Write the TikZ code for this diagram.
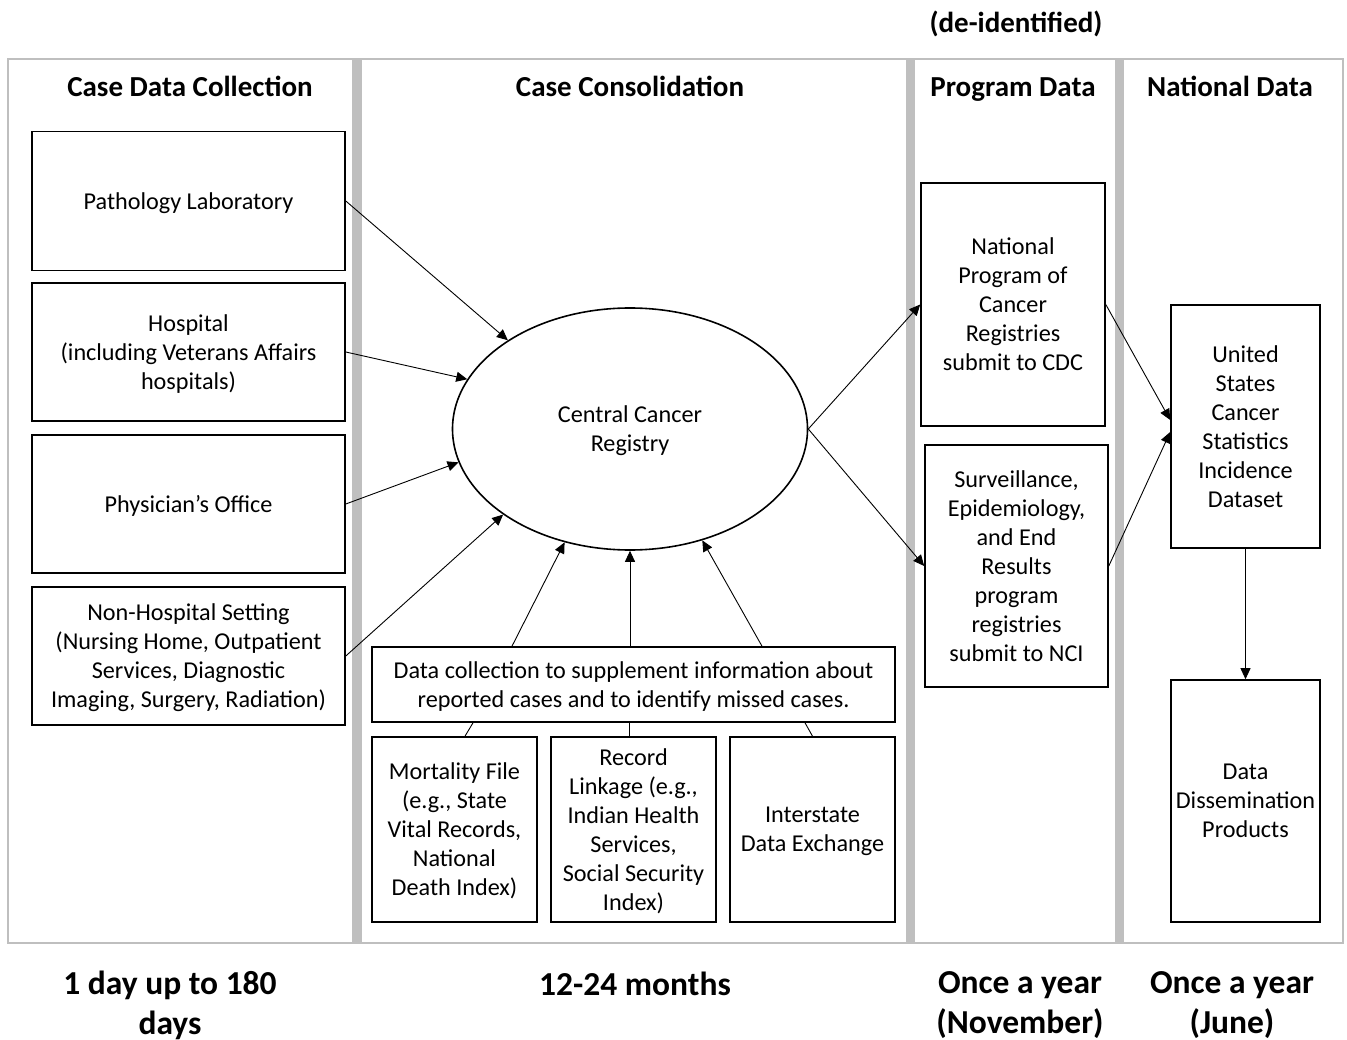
\documentclass[tikz,border=0pt]{standalone}
\usepackage{fontspec}
\setmainfont{Carlito}
\usetikzlibrary{arrows.meta,shapes.geometric}
\definecolor{barcol}{HTML}{BFBFBF}
\begin{document}
\begin{tikzpicture}[x=1pt,y=-1pt,
  box/.style={draw, line width=1.6pt, align=center, inner sep=0pt, text depth=0pt,
    font=\fontsize{24.2}{29}\selectfont},
  head/.style={anchor=base, font=\fontsize{29}{34}\selectfont\bfseries},
  foot/.style={font=\fontsize{33.5}{40}\selectfont\bfseries, align=center},
  arr/.style={-{Triangle[length=11pt,width=10pt]}, line width=0.9pt},
  ln/.style={line width=0.9pt}]
\useasboundingbox (0,0) rectangle (1347,1040);
% frame and column bars
\draw[barcol, line width=2.2pt] (8,59) rectangle (1343,943);
\fill[barcol] (352,59) rectangle (362,943);
\fill[barcol] (906,59) rectangle (915,943);
\fill[barcol] (1115,59) rectangle (1124,943);
% headers
\node[head] (h1) at (190,97) {Case Data Collection};
\node[head] (h2) at (630,97) {Case Consolidation};
\node[head] (h3) at (1013,97) {Program Data};
\node[head] (h4) at (1230,97) {National Data};
\node[head] (deid) at (1016,33) {(de-identified)};
% left column
\node[box, minimum width=313pt, minimum height=139pt] (path) at (188.5,201) {Pathology Laboratory};
\node[box, minimum width=313pt, minimum height=138pt] (hosp) at (188.5,352) {Hospital\\(including Veterans Affairs\\hospitals)};
\node[box, minimum width=313pt, minimum height=138pt] (phys) at (188.5,504) {Physician’s Office};
\node[box, minimum width=313pt, minimum height=138pt] (nonh) at (188.5,656) {Non-Hospital Setting\\(Nursing Home, Outpatient\\Services, Diagnostic\\Imaging, Surgery, Radiation)};
% consolidation
\node[box, ellipse, minimum width=355pt, minimum height=242pt] (ccr) at (630,429) {Central Cancer\\Registry};
\node[box, minimum width=523pt, minimum height=75pt] (datac) at (633.5,684.5) {Data collection to supplement information about\\reported cases and to identify missed cases.};
\node[box, minimum width=165pt, minimum height=185pt] (mort) at (454.5,829.5) {Mortality File\\(e.g., State\\Vital Records,\\National\\Death Index)};
\node[box, minimum width=165pt, minimum height=185pt] (rec) at (633.5,829.5) {Record\\Linkage (e.g.,\\Indian Health\\Services,\\Social Security\\Index)};
\node[box, minimum width=165pt, minimum height=185pt] (inter) at (812.5,829.5) {Interstate\\Data Exchange};
% program data
\node[box, minimum width=184pt, minimum height=243pt] (npcr) at (1013,304.5) {National\\Program of\\Cancer\\Registries\\submit to CDC};
\node[box, minimum width=183pt, minimum height=242pt] (seer) at (1016.5,566) {Surveillance,\\Epidemiology,\\and End\\Results\\program\\registries\\submit to NCI};
% national data
\node[box, minimum width=149pt, minimum height=243pt] (uscs) at (1245.5,426.5) {United\\States\\Cancer\\Statistics\\Incidence\\Dataset};
\node[box, minimum width=149pt, minimum height=242pt] (diss) at (1245.5,801) {Data\\Dissemination\\Products};
% footers
\node[foot] (f1) at (170,1005) {1 day up to 180\\days};
\node[foot] (f2) at (635,984) {12-24 months};
\node[foot] (f3) at (1020,1005) {Once a year\\(November)};
\node[foot] (f4) at (1232,1005) {Once a year\\(June)};
% arrows into registry
\draw[arr] (path.east) -- (ccr.144.5);
\draw[arr] (hosp.east) -- (ccr.163.9);
\draw[arr] (phys.east) -- (ccr.191.3);
\draw[arr] (nonh.east) -- (ccr.214.8);
\draw[arr] ([xshift=-121.5pt]datac.north) -- (ccr.240.6);
\draw[arr] (ccr.south |- datac.north) -- (ccr.south);
\draw[arr] ([xshift=128.5pt]datac.north) -- (ccr.303.8);
% lines from sources to data collection box
\draw[ln] ([xshift=-160.5pt]datac.south) -- ([xshift=10.5pt]mort.north);
\draw[ln] ([xshift=-4.5pt]datac.south) -- ([xshift=-4.5pt]rec.north);
\draw[ln] ([xshift=171.5pt]datac.south) -- (inter.north);
% registry to program data
\draw[arr] (ccr.east) -- (npcr.west);
\draw[arr] (ccr.east) -- (seer.west);
% program data to national
\draw[arr] (npcr.east) -- ([yshift=6.5pt]uscs.west);
\draw[arr] (seer.east) -- ([yshift=-5.5pt]uscs.west);
\draw[arr] (uscs.south) -- (diss.north);
\end{tikzpicture}
\end{document}
